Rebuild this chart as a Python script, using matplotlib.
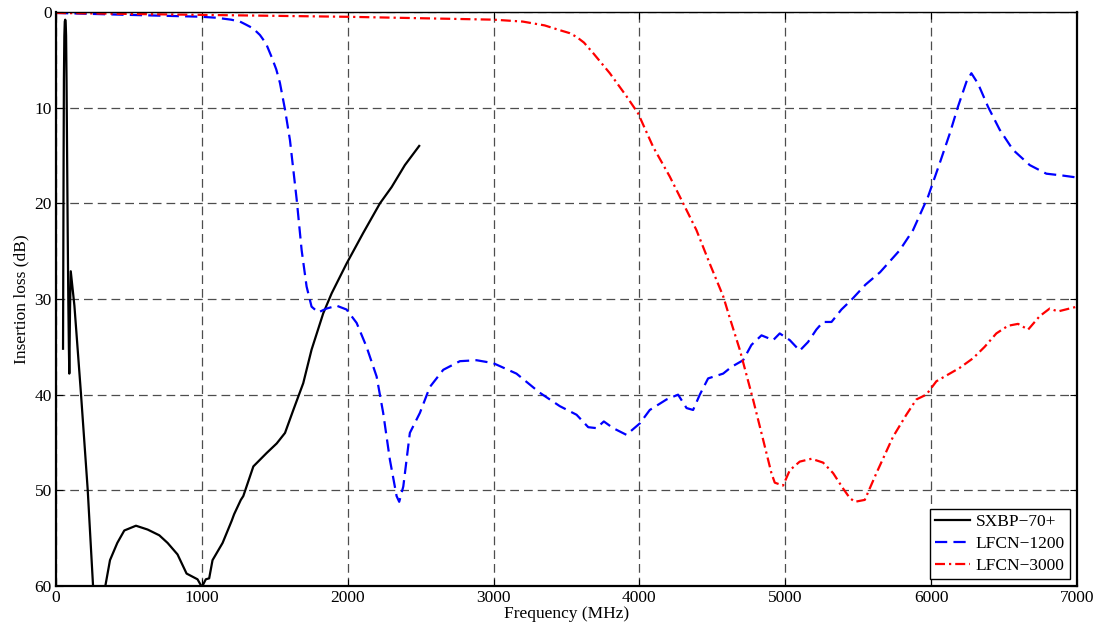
import matplotlib
matplotlib.use("Agg")
import matplotlib.pyplot as plt

# ---- data (frequency in MHz, insertion loss in dB) ----
sxbp_f = [48, 50, 52, 54, 57, 60, 63, 66, 69, 72, 76, 80, 84, 88, 91, 96, 101,
          126, 171, 217, 256, 270, 330, 338, 370, 420, 468, 548, 628, 708, 765,
          833, 895, 970, 1000, 1027, 1050, 1073, 1142, 1204, 1221, 1267, 1284,
          1353, 1444, 1513, 1570, 1627, 1695, 1752, 1832, 1890, 1992, 2106,
          2221, 2301, 2392, 2490]
sxbp_db = [35.2, 25, 15, 7, 2.5, 1.0, 0.8, 1.0, 2.5, 7, 15, 23, 30, 35, 37.8,
           31, 27.1, 30.7, 39.9, 49.9, 60.6, 62, 62, 60, 57.3, 55.5, 54.2, 53.7,
           54.1, 54.7, 55.5, 56.7, 58.7, 59.3, 60.1, 59.3, 59.2, 57.3, 55.5,
           53.2, 52.5, 51.0, 50.6, 47.5, 46.1, 45.1, 44.0, 41.6, 38.8, 35.3,
           31.5, 29.4, 26.3, 23.1, 20.0, 18.3, 16.0, 14.0]

lfcn1200_f = [0, 500, 987, 1100, 1200, 1261, 1300, 1350, 1398, 1440, 1478, 1510,
              1535, 1570, 1604, 1650, 1684, 1718,
              1752, 1798, 1855, 1924, 1992, 2061, 2129, 2198, 2243, 2289, 2335,
              2353, 2381, 2426, 2495, 2563, 2655, 2769, 2883, 2997, 3157, 3317,
              3454, 3569, 3649, 3706, 3756, 3820, 3911, 4003, 4071, 4186, 4265,
              4323, 4368, 4414, 4471, 4574, 4631, 4711, 4768, 4837, 4917, 4962,
              5031, 5099, 5156, 5213, 5259, 5317, 5385, 5453, 5550, 5650, 5785,
              5876, 5979, 6059, 6128, 6184, 6242, 6276, 6322, 6390, 6470, 6561,
              6676, 6790, 6904, 7000]
lfcn1200_db = [0.1, 0.3, 0.49, 0.6, 0.8, 1.0, 1.3, 1.7, 2.4, 3.3, 4.7, 6.0,
               7.4, 10.2, 13.4, 19.6, 24.9, 28.7,
               30.8, 31.4, 31.0, 30.7, 31.1, 32.5, 35.0, 38.1, 41.9, 46.8, 50.6,
               51.2, 49.6, 44.0, 41.9, 39.2, 37.4, 36.5, 36.4, 36.7, 37.8, 39.8,
               41.2, 42.1, 43.4, 43.5, 42.8, 43.5, 44.2, 43.0, 41.6, 40.5, 40.0,
               41.4, 41.6, 40.0, 38.3, 37.8, 37.1, 36.4, 34.8, 33.8, 34.3, 33.6,
               34.3, 35.4, 34.5, 33.2, 32.4, 32.4, 31.1, 30.1, 28.5, 27.2, 24.9,
               22.8, 19.3, 15.8, 12.7, 9.9, 7.3, 6.4, 7.5, 9.9, 12.3, 14.4, 16.0,
               16.9, 17.1, 17.3]

lfcn3000_f = [0, 1000, 2000, 3000, 3200, 3350, 3454, 3520, 3569, 3620, 3683,
              3797, 3911,
              3991, 4094, 4208, 4300, 4391, 4482, 4574, 4620, 4688, 4779, 4848,
              4905, 4928, 4985, 5031, 5099, 5180, 5259, 5328, 5396, 5442, 5477,
              5545, 5625, 5739, 5830, 5899, 5967, 6036, 6196, 6287, 6367, 6447,
              6527, 6596, 6665, 6744, 6813, 6870, 7000]
lfcn3000_db = [0.1, 0.3, 0.5, 0.8, 1.0, 1.4, 1.9, 2.2, 2.6, 3.2, 4.3, 6.4, 8.8,
               10.6, 14.1,
               17.2, 20.0, 22.8, 26.3, 29.7, 32.0, 35.3, 40.5, 44.7, 48.2, 49.2,
               49.5, 47.9, 47.0, 46.7, 47.1, 48.2, 49.8, 50.8, 51.2, 51.0, 48.2,
               44.4, 42.1, 40.5, 40.0, 38.6, 37.2, 36.2, 35.0, 33.6, 32.8, 32.6,
               33.2, 31.8, 31.0, 31.3, 30.8]

labels = ["SXBP\u221270+", "LFCN\u22121200", "LFCN\u22123000"]
xticks = [0, 1000, 2000, 3000, 4000, 5000, 6000, 7000]
yticks = [0, 10, 20, 30, 40, 50, 60]

plt.rcParams['font.family'] = ['Liberation Serif', 'DejaVu Serif']
plt.rcParams['font.size'] = 12.5

fig = plt.figure(figsize=(11.03, 6.32), dpi=100)
ax = fig.add_axes([0.0508, 0.0728, 0.9256, 0.9082])

ax.plot(sxbp_f, sxbp_db, color='black', lw=1.6, label=labels[0])
ax.plot(lfcn1200_f, lfcn1200_db, color='#0000ff', lw=1.6,
        dashes=(5.5, 2.8), label=labels[1])
ax.plot(lfcn3000_f, lfcn3000_db, color='#ff0000', lw=1.6,
        dashes=(4.5, 1.8, 1.0, 1.8), label=labels[2])

ax.set_xlim(0, 7000)
ax.set_ylim(60, 0)
ax.set_xticks(xticks)
ax.set_yticks(yticks)
ax.grid(True, color='0.3', lw=0.9, dashes=(7, 4))
ax.tick_params(direction='in', length=5, top=True, right=True, pad=3)

for side in ['left', 'bottom', 'right']:
    ax.spines[side].set_linewidth(1.6)
ax.spines['top'].set_linewidth(1.0)

ax.set_xlabel("Frequency (MHz)", labelpad=0)
ax.set_ylabel("Insertion loss (dB)", labelpad=4)

leg = ax.legend(loc='lower right', fancybox=False, framealpha=1,
                edgecolor='black', borderaxespad=0.4, handlelength=2.0,
                labelspacing=0.32, borderpad=0.3, handletextpad=0.35)
leg.get_frame().set_linewidth(1.0)

fig.savefig("out.png", dpi=100)
